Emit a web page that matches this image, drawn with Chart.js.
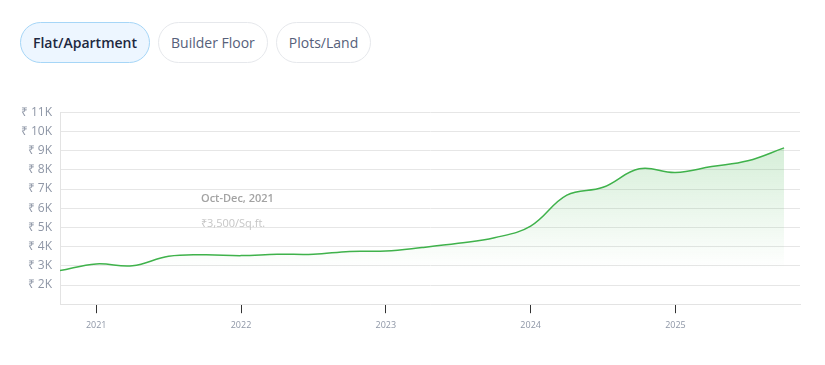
<!DOCTYPE html>
<html>
<head>
<meta charset="utf-8">
<script src="https://cdn.jsdelivr.net/npm/chart.js@4.4.1/dist/chart.umd.min.js"></script>
<style>
    html, body { margin: 0; padding: 0; background: #fff; font-family: 'Open Sans', sans-serif; }
    body { width: 825px; height: 365px; position: relative; overflow: hidden; }
    .tabs { position: absolute; left: 20px; top: 22px; display: flex; gap: 8px; }
    .tab {
        height: 39px; line-height: 39px; padding: 0 12px; border-radius: 21px;
        border: 1px solid #e6e8ec; color: #56607a; font-size: 14px; background: #fff;
    }
    .tab.active { background: #edf6ff; border-color: #a6d6f7; color: #1d2840; font-weight: 600; }
    .chart-box { position: absolute; left: 0; top: 97px; width: 825px; height: 268px; }
    .hint { position: absolute; left: 201px; font-size: 11px; }
    .hint.period { top: 190px; color: #a3a3a3; font-weight: 600; }
    .hint.price { top: 215px; color: #c6c6c6; }
</style>
</head>
<body>
<div class="tabs">
    <div class="tab active">Flat/Apartment</div>
    <div class="tab">Builder Floor</div>
    <div class="tab">Plots/Land</div>
</div>
<div class="chart-box"><canvas id="priceChart"></canvas></div>
<div class="hint period">Oct-Dec, 2021</div>
<div class="hint price">₹3,500/Sq.ft.</div>

<script>
// Trimestres (début de trimestre en années décimales)
const quarterStart = [2020.75, 2021.0, 2021.25, 2021.5, 2021.75, 2022.0, 2022.25, 2022.5, 2022.75,
    2023.0, 2023.25, 2023.5, 2023.75, 2024.0, 2024.25, 2024.5, 2024.75, 2025.0, 2025.25, 2025.5, 2025.75];
// Prix moyen au Sq.ft.
const pricePerSqft = [2750, 3100, 3000, 3500, 3580, 3530, 3600, 3600, 3750, 3770, 3950,
    4170, 4460, 5070, 6680, 7090, 8050, 7860, 8170, 8470, 9140];
const yearTicks = [2021, 2022, 2023, 2024, 2025];

const ctx = document.getElementById('priceChart').getContext('2d');

new Chart(ctx, {
    type: 'line',
    data: {
        datasets: [{
            data: quarterStart.map((x, i) => ({ x: x, y: pricePerSqft[i] })),
            borderColor: '#3fb24b',
            borderWidth: 1.5,
            pointRadius: 0,
            tension: 0.4,
            fill: 'start',
            backgroundColor: function (context) {
                const area = context.chart.chartArea;
                if (!area) return 'rgba(63,178,75,0.2)';
                const g = context.chart.ctx.createLinearGradient(0, area.top, 0, area.bottom - 35);
                g.addColorStop(0, 'rgba(63,178,75,0.28)');
                g.addColorStop(1, 'rgba(63,178,75,0)');
                return g;
            }
        }]
    },
    options: {
        responsive: true,
        maintainAspectRatio: false,
        animation: false,
        layout: { padding: { top: 9, right: 25, bottom: 27, left: 0 } },
        plugins: { legend: { display: false }, tooltip: { enabled: false } },
        scales: {
            x: {
                type: 'linear',
                min: 2020.75,
                max: 2025.86,
                afterBuildTicks: function (scale) {
                    scale.ticks = yearTicks.map(v => ({ value: v }));
                },
                grid: { drawOnChartArea: false, tickLength: 9, tickColor: '#333', tickWidth: 1 },
                border: { color: '#e3e3e3' },
                ticks: {
                    color: '#8e96a6',
                    font: { family: 'Open Sans', size: 9 },
                    padding: 7,
                    callback: v => String(v)
                }
            },
            y: {
                min: 1000,
                max: 11000,
                afterFit: function (scale) { scale.width = 60; },
                ticks: {
                    stepSize: 1000,
                    color: '#8e96a6',
                    font: { family: 'Open Sans', size: 12 },
                    padding: 8,
                    callback: v => v === 1000 ? '' : '₹ ' + (v / 1000) + 'K'
                },
                grid: { color: '#e6e6e6', drawTicks: false },
                border: { color: '#e3e3e3' }
            }
        }
    }
});
</script>
</body>
</html>
